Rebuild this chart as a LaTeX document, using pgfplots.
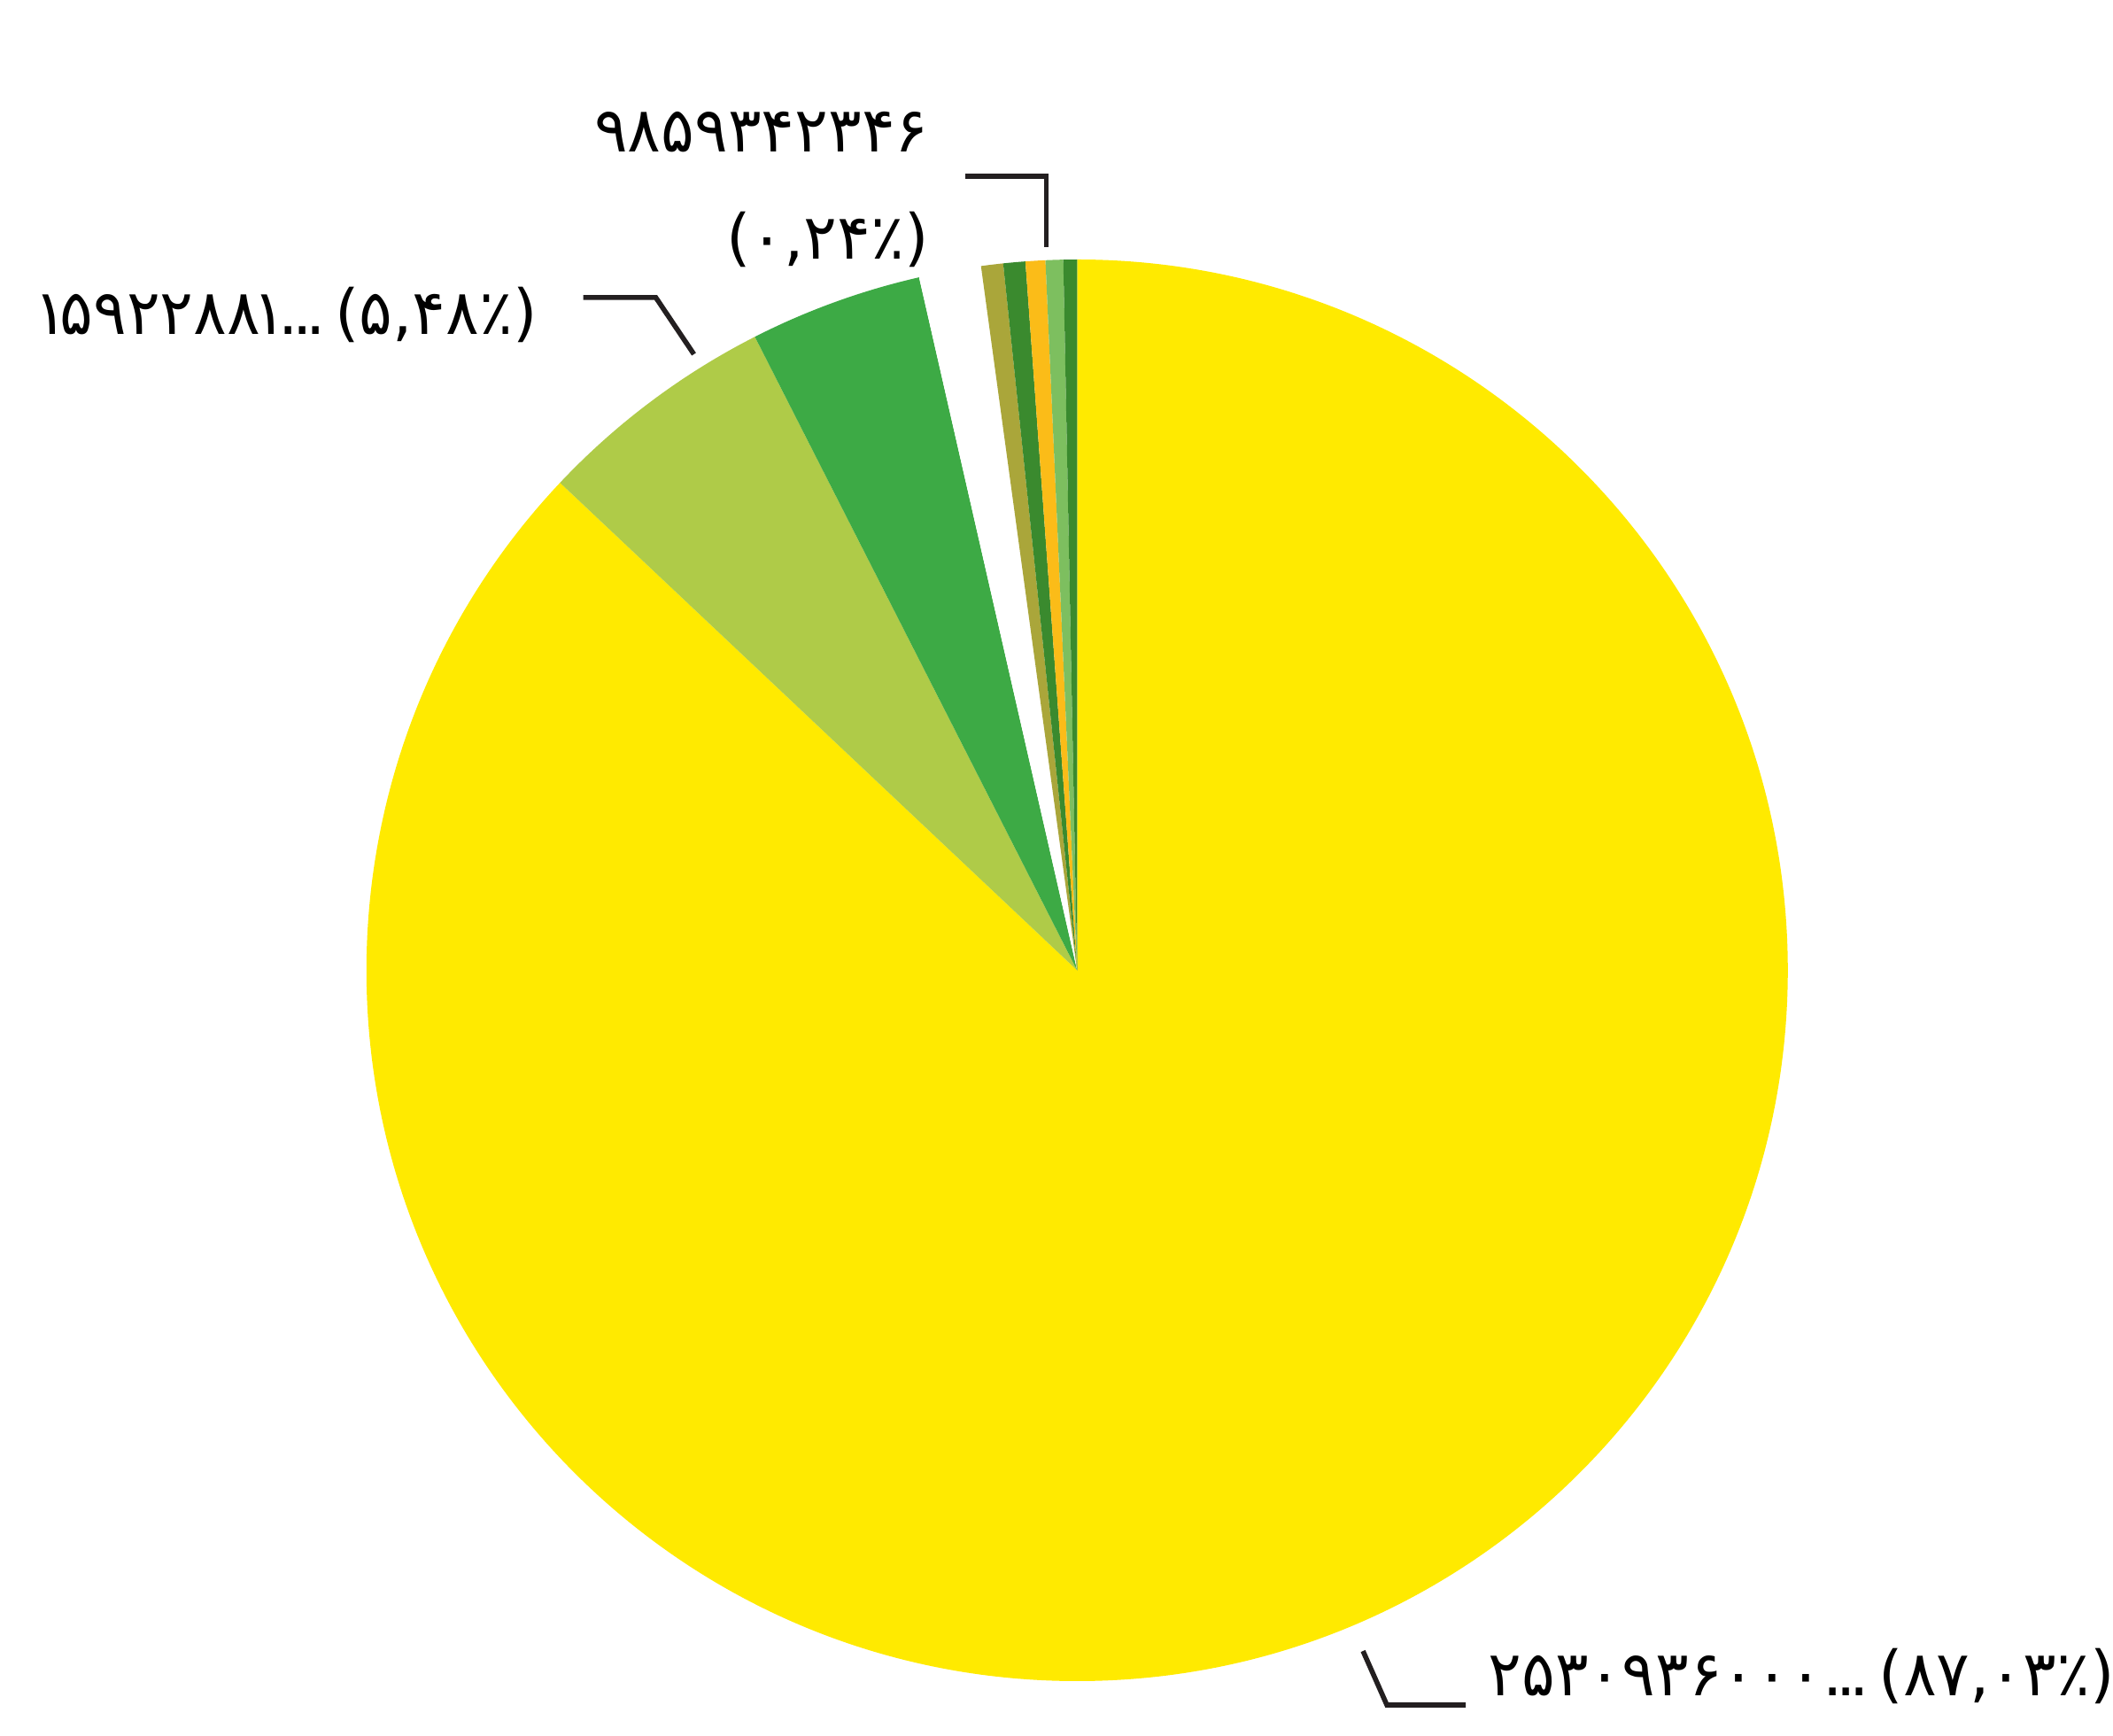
\documentclass[border=0pt]{standalone}
\usepackage{pgfplots}
\pgfplotsset{compat=1.18}
\usepackage{pgfplotstable}
\usepackage{fontspec}
\newfontfamily\fa{DejaVu Sans}

\definecolor{pyellow}{RGB}{255,234,0}
\definecolor{plime}{RGB}{175,203,72}
\definecolor{pgreen}{RGB}{61,170,69}
\definecolor{polive}{RGB}{170,166,58}
\definecolor{pdark}{RGB}{58,138,46}
\definecolor{porange}{RGB}{251,188,24}
\definecolor{plight}{RGB}{125,191,95}
\definecolor{leader}{RGB}{35,31,32}

% tighter dots and narrow one, closer to the original's label font
\newcommand\tdots{.\kern-0.1em.\kern-0.1em.}
\newcommand\one{\kern-0.12em ۱\kern-0.12em}

% slice shares in percent, clockwise from 12 o'clock
\pgfplotstableread{
value color
87.03 pyellow
5.48  plime
3.92  pgreen
1.41  white
0.50  polive
0.50  pdark
0.45  porange
0.40  plight
0.31  pdark
}\piedata

\begin{document}
\begin{tikzpicture}
\begin{axis}[
    x=0.01cm, y=0.01cm,
    xmin=0, xmax=2386, ymin=0, ymax=1960,
    hide axis, clip=false,
  ]
  \pgfplotsextra{
    \pgfplotstablegetrowsof{\piedata}
    \pgfmathtruncatemacro\lastrow{\pgfplotsretval-1}
    \gdef\startangle{90}
    \foreach \i in {0,...,\lastrow} {
      \pgfplotstablegetelem{\i}{value}\of\piedata \let\sliceval\pgfplotsretval
      \pgfplotstablegetelem{\i}{color}\of\piedata \let\slicecol\pgfplotsretval
      \pgfmathsetmacro\endangle{\startangle-3.6*\sliceval}
      \fill[fill=\slicecol] (axis cs:1217,865) -- ++(\startangle:8.025cm)
        arc[start angle=\startangle, end angle=\endangle, radius=8.025cm] -- cycle;
      \global\let\startangle\endangle
    }
  }
  % leader lines
  \draw[leader, line width=1.6pt] (axis cs:1091,1762) -- (axis cs:1182,1762) -- (axis cs:1182,1682);
  \draw[leader, line width=1.6pt] (axis cs:659,1625) -- (axis cs:741,1625) -- (axis cs:784,1561);
  \draw[leader, line width=1.6pt] (axis cs:1540,96) -- (axis cs:1567,35) -- (axis cs:1656,35);
  % labels
  \node[anchor=base east, inner sep=0pt, font=\fa\fontsize{20}{24}\selectfont]
    at (axis cs:1050,1790) {۹۸۵۹۳۴۲۳۴۶};
  \node[anchor=base east, inner sep=0pt, font=\fa\fontsize{20}{24}\selectfont]
    at (axis cs:1050,1668) {(۰,۲۴٪)};
  \node[anchor=base west, inner sep=0pt, font=\fa\fontsize{20}{24}\selectfont]
    at (axis cs:46,1583) {\one۵۹۲۲۸۸\one\tdots\kern0.15em(۵,۴۸٪)};
  \node[anchor=base west, inner sep=0pt, font=\fa\fontsize{20}{24}\selectfont]
    at (axis cs:1681,46) {۲۵۳۰۹۳۶۰۰۰\tdots\kern0.15em(۸۷,۰۳٪)};
\end{axis}
\pgfresetboundingbox
\path[use as bounding box] (0,0) rectangle (23.86cm,19.6cm);
\end{tikzpicture}
\end{document}
